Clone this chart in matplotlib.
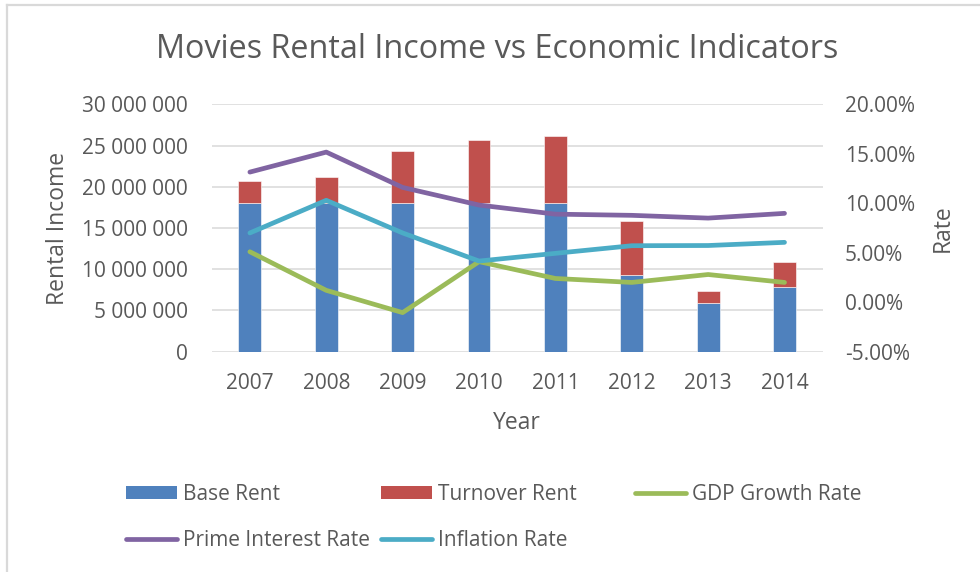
import matplotlib
matplotlib.use("Agg")
import matplotlib.pyplot as plt
from matplotlib.lines import Line2D
from matplotlib.patches import Patch
from matplotlib.ticker import FuncFormatter, FixedLocator

# ---- data -------------------------------------------------------------
years = ["2007", "2008", "2009", "2010", "2011", "2012", "2013", "2014"]
base_rent = [18.0e6, 18.0e6, 18.0e6, 18.0e6, 18.0e6, 9.3e6, 5.9e6, 7.9e6]
turnover_rent = [2.7e6, 3.15e6, 6.3e6, 7.7e6, 8.1e6, 6.55e6, 1.4e6, 3.0e6]
gdp_growth = [5.1, 1.2, -1.05, 4.1, 2.4, 2.0, 2.8, 2.0]          # percent
prime_rate = [13.15, 15.17, 11.6, 9.82, 8.9, 8.78, 8.5, 8.98]     # percent
inflation_rate = [7.0, 10.3, 7.0, 4.16, 4.94, 5.71, 5.73, 6.05]   # percent

income_ticks = [0, 5e6, 10e6, 15e6, 20e6, 25e6, 30e6]
rate_ticks = [-5, 0, 5, 10, 15, 20]

# ---- style ------------------------------------------------------------
plt.rcParams["font.family"] = ["Open Sans", "DejaVu Sans"]
TXT = "#595959"
GRID = "#d9d9d9"
C_BASE, C_TURN = "#4f81bd", "#c0504d"
C_GDP, C_PRIME, C_INFL = "#9bbb59", "#8064a2", "#4bacc6"
FS = 15

W, H = 980, 572
fig = plt.figure(figsize=(W / 100, H / 100), dpi=100)

def fx(px):
    return px / W

def fy(py):
    return 1 - py / H

# chart border (top and left edges visible)
fig.add_artist(Line2D([fx(7), fx(7)], [fy(5), -0.1], color=GRID, lw=1.6,
                      transform=fig.transFigure))
fig.add_artist(Line2D([fx(7), 1.1], [fy(5), fy(5)], color=GRID, lw=1.6,
                      transform=fig.transFigure))

left, right, top, bottom = 211.7, 822.7, 104.3, 351.7
ax = fig.add_axes([fx(left), fy(bottom), (right - left) / W, (bottom - top) / H])
x = list(range(len(years)))

ax.bar(x, base_rent, width=0.3, color=C_BASE, edgecolor="white", linewidth=0.4,
       zorder=2)
ax.bar(x, turnover_rent, width=0.3, bottom=base_rent, color=C_TURN,
       edgecolor="white", linewidth=0.4, zorder=2)

ax.set_xlim(-0.5, len(years) - 0.5)
ax.set_ylim(0, 30e6)
ax.yaxis.set_major_locator(FixedLocator(income_ticks))
ax.yaxis.set_major_formatter(
    FuncFormatter(lambda v, p: f"{int(round(v)):,}".replace(",", " ")))
ax.set_xticks(x)
ax.set_xticklabels(years)
ax.grid(axis="y", color=GRID, lw=1.1, zorder=0)
ax.set_axisbelow(True)
for s in ax.spines.values():
    s.set_visible(False)
ax.tick_params(axis="y", length=0, pad=17, labelsize=FS, labelcolor=TXT)
ax.tick_params(axis="x", length=0, pad=15, labelsize=FS, labelcolor=TXT)

ax2 = ax.twinx()
lw = 3.4
ax2.plot(x, gdp_growth, color=C_GDP, lw=lw, solid_capstyle="round",
         solid_joinstyle="round", zorder=3)
ax2.plot(x, prime_rate, color=C_PRIME, lw=lw, solid_capstyle="round",
         solid_joinstyle="round", zorder=3)
ax2.plot(x, inflation_rate, color=C_INFL, lw=lw, solid_capstyle="round",
         solid_joinstyle="round", zorder=3)
ax2.set_ylim(-5, 20)
ax2.yaxis.set_major_locator(FixedLocator(rate_ticks))
ax2.yaxis.set_major_formatter(FuncFormatter(lambda v, p: f"{v:.2f}%"))
for s in ax2.spines.values():
    s.set_visible(False)
ax2.tick_params(axis="y", length=0, pad=16, labelsize=FS, labelcolor=TXT)

# titles and axis labels
fig.text(fx(497), fy(50), "Movies Rental Income vs Economic Indicators",
         ha="center", va="center", fontsize=23.3, color=TXT)
fig.text(fx(58), fy(228), "Rental Income", rotation=90, ha="center",
         va="center", fontsize=16.5, color=TXT)
fig.text(fx(943), fy(228), "Rate", rotation=90, ha="center", va="center",
         fontsize=16.5, color=TXT)
fig.text(fx(517), fy(423), "Year", ha="center", va="center", fontsize=16.5,
         color=TXT)

# legend, laid out on a fixed grid
entries = [
    (Patch(facecolor=C_BASE), "Base Rent", 126, 494),
    (Patch(facecolor=C_TURN), "Turnover Rent", 381, 494),
    (Line2D([], [], color=C_GDP, lw=lw, solid_capstyle="round"),
     "GDP Growth Rate", 635, 494),
    (Line2D([], [], color=C_PRIME, lw=lw, solid_capstyle="round"),
     "Prime Interest Rate", 126, 540),
    (Line2D([], [], color=C_INFL, lw=lw, solid_capstyle="round"),
     "Inflation Rate", 381, 540),
]
for handle, label, px, py in entries:
    fig.legend(handles=[handle], labels=[label], loc="center left",
               bbox_to_anchor=(fx(px), fy(py)), frameon=False,
               borderpad=0, borderaxespad=0, handlelength=2.45,
               handleheight=0.6, handletextpad=0.3, fontsize=FS,
               labelcolor=TXT)

fig.savefig("out.png", dpi=100)
